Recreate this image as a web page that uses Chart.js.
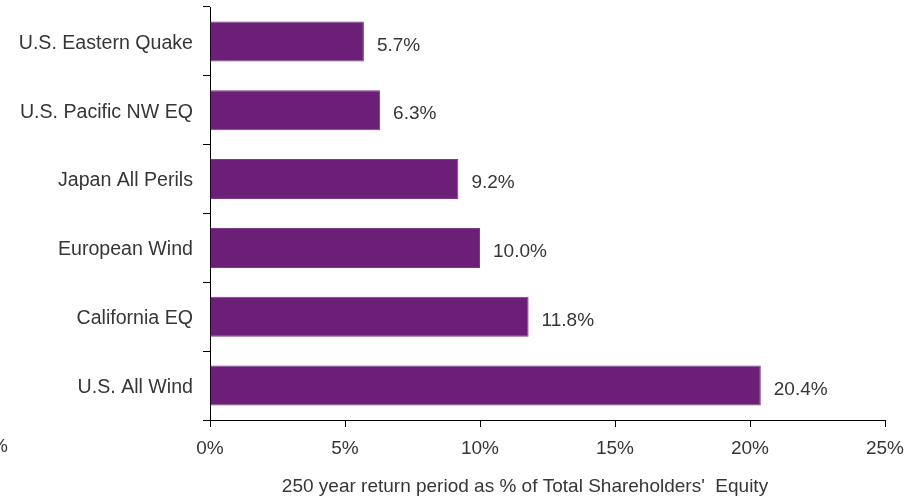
<!DOCTYPE html>
<html>
<head>
<meta charset="utf-8">
<script src="https://cdn.jsdelivr.net/npm/chart.js@4/dist/chart.umd.min.js"></script>
<style>
  body { margin: 0; background: #fff; }
  #wrap { width: 921px; height: 500px; }
</style>
</head>
<body>
<div id="wrap"><canvas id="chart" width="921" height="500"></canvas></div>
<script>
const categories = ['U.S. Eastern Quake', 'U.S. Pacific NW EQ', 'Japan All Perils', 'European Wind', 'California EQ', 'U.S. All Wind'];
const values = [5.7, 6.3, 9.2, 10.0, 11.8, 20.4];
const xTicks = [0, 5, 10, 15, 20, 25];
const axisTitle = "250 year return period as % of Total Shareholders'  Equity";

const textColor = '#363636';
const fontFamily = '"Liberation Sans", Arial, sans-serif';

// value labels, axis title and the clipped label on the left
const extras = {
    id: 'extras',
    afterDatasetsDraw(chart) {
        const ctx = chart.ctx;
        const meta = chart.getDatasetMeta(0);
        ctx.save();
        ctx.font = '19px ' + fontFamily;
        ctx.fillStyle = textColor;
        ctx.textBaseline = 'middle';
        ctx.textAlign = 'left';
        meta.data.forEach((bar, i) => {
            ctx.fillText(values[i].toFixed(1) + '%', bar.x + 13, bar.y + 4);
        });
        ctx.textAlign = 'center';
        ctx.fillText(axisTitle, 525, 487);
        ctx.textAlign = 'right';
        ctx.fillText('-5%', 8, 447);
        ctx.restore();
    }
};

new Chart(document.getElementById('chart'), {
    type: 'bar',
    data: {
        labels: categories,
        datasets: [{
            data: values,
            backgroundColor: '#6b1f77',
            borderColor: '#7d3a88',
            borderWidth: 1,
            categoryPercentage: 1,
            barPercentage: 0.58
        }]
    },
    options: {
        indexAxis: 'y',
        responsive: false,
        animation: false,
        layout: { padding: { top: 7, right: 36, left: 0, bottom: 0 } },
        plugins: {
            legend: { display: false },
            tooltip: { enabled: false }
        },
        scales: {
            x: {
                min: 0,
                max: 25,
                afterBuildTicks(axis) {
                    axis.ticks = xTicks.map(v => ({ value: v }));
                },
                afterFit(axis) { axis.height = 80; },
                grid: { drawOnChartArea: false, drawTicks: true, tickLength: 7, color: '#000' },
                border: { display: true, color: '#000', width: 1 },
                ticks: {
                    padding: 10,
                    color: textColor,
                    font: { family: fontFamily, size: 19 },
                    callback: v => v + '%'
                }
            },
            y: {
                afterFit(axis) {
                    axis.width = 210;
                    axis.paddingTop = 0;
                    axis.paddingBottom = 0;
                },
                grid: { drawOnChartArea: false, drawTicks: true, tickLength: 7, color: '#000', offset: true },
                border: { display: true, color: '#000', width: 1 },
                ticks: {
                    padding: 10,
                    labelOffset: 2,
                    color: textColor,
                    font: { family: fontFamily, size: 19.6 }
                }
            }
        }
    },
    plugins: [extras]
});
</script>
</body>
</html>
